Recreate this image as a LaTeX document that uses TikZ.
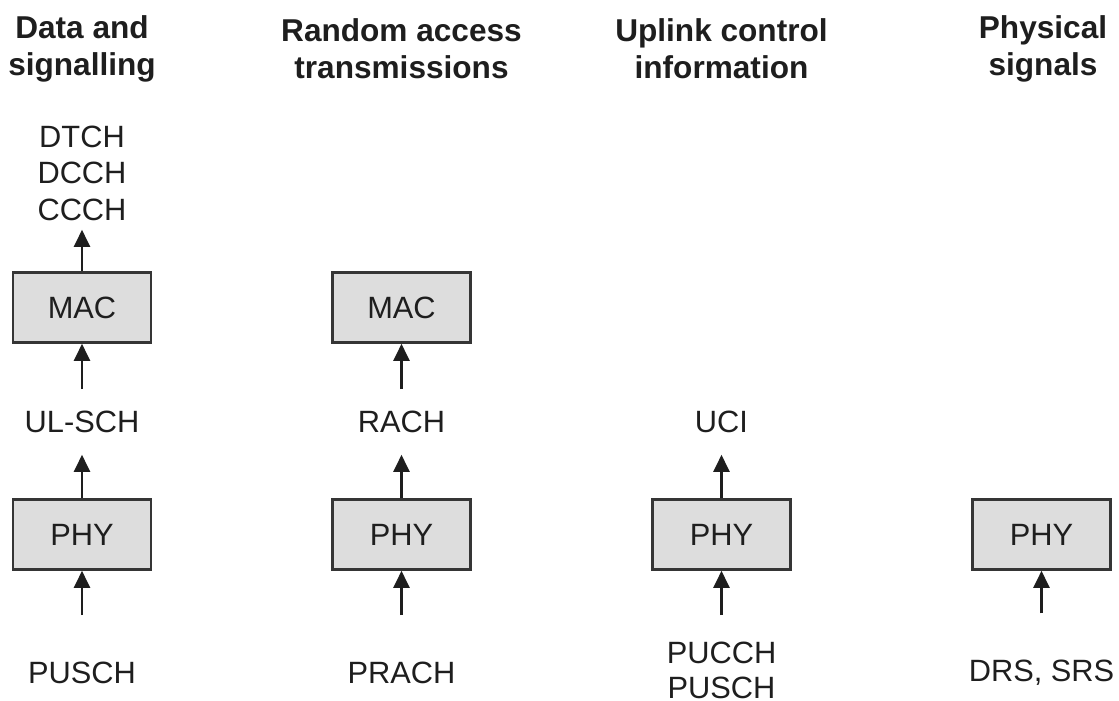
\documentclass[tikz,border=0pt]{standalone}
\usepackage{fontspec}
\setmainfont{Liberation Sans}
\usetikzlibrary{arrows.meta}
\definecolor{boxfill}{HTML}{DDDDDD}
\definecolor{ink}{HTML}{1E1E1E}
\begin{document}
\begin{tikzpicture}[x=0.5pt,y=-0.5pt,
  every node/.style={text=ink},
  layer/.style={draw=ink!90, fill=boxfill, line width=1.3pt, minimum width=69pt, minimum height=35pt, inner sep=0pt, font=\fontsize{15.4}{18}\selectfont},
  lbl/.style={inner sep=0pt, align=center, font=\fontsize{15.4}{18.25}\selectfont},
  head/.style={inner sep=0pt, align=center, font=\bfseries\fontsize{15.8}{18.6}\selectfont},
  arr/.style={draw=ink, line width=1.1pt, -{Triangle[width=8pt,length=8.5pt]}}
]
\useasboundingbox (0,0) rectangle (1119,701);
% headings
\node[head] (h1) at (82,49) {Data and\\signalling};
\node[head] (h2) at (401.5,49) {Random access\\transmissions};
\node[head] (h3) at (721.5,49) {Uplink control\\information};
\node[head] (h4) at (1043,49) {Physical\\signals};
% column 1
\node[lbl] (log1) at (82,173) {DTCH\\DCCH\\CCCH};
\node[layer] (mac1) at (82,307.5) {MAC};
\node[lbl] (ulsch) at (82,421.5) {UL-SCH};
\node[layer] (phy1) at (82,534.5) {PHY};
\node[lbl] (pusch) at (82,672.5) {PUSCH};
% column 2
\node[layer] (mac2) at (401.5,307.5) {MAC};
\node[lbl] (rach) at (401.5,421.5) {RACH};
\node[layer] (phy2) at (401.5,534.5) {PHY};
\node[lbl] (prach) at (401.5,672.5) {PRACH};
% column 3
\node[lbl] (uci) at (721.5,421.5) {UCI};
\node[layer] (phy3) at (721.5,534.5) {PHY};
\node[lbl, font=\fontsize{15.4}{17.5}\selectfont] (pucch) at (721.5,670) {PUCCH\\PUSCH};
% column 4
\node[layer] (phy4) at (1041.5,534.5) {PHY};
\node[lbl] (drs) at (1041.5,672.5) {DRS, SRS};
% arrows
\draw[arr, shorten <=23pt] (pusch.north) -- (phy1.south);
\draw[arr, shorten >=11pt] (phy1.north) -- (ulsch.south);
\draw[arr, shorten <=10.5pt] (ulsch.north) -- (mac1.south);
\draw[arr, shorten >=4.5pt] (mac1.north) -- (log1.south);
\draw[arr, shorten <=23pt] (prach.north) -- (phy2.south);
\draw[arr, shorten >=11pt] (phy2.north) -- (rach.south);
\draw[arr, shorten <=10.5pt] (rach.north) -- (mac2.south);
\draw[arr, shorten <=13pt] (pucch.north) -- (phy3.south);
\draw[arr, shorten >=11pt] (phy3.north) -- (uci.south);
\draw[arr, shorten <=23pt] (drs.north) -- (phy4.south);
\end{tikzpicture}
\end{document}
